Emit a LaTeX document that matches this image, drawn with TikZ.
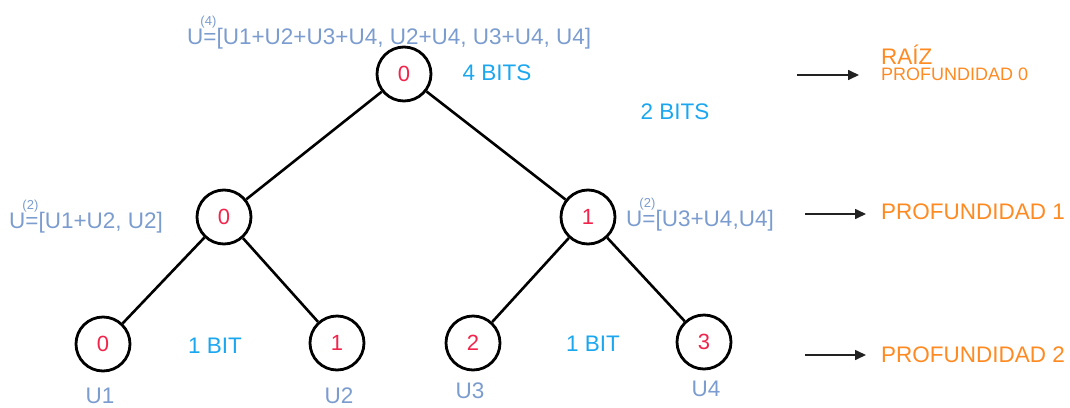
\documentclass[tikz,border=0pt]{standalone}
\usepackage{fontspec}
\setmainfont{Liberation Sans}
\usetikzlibrary{arrows.meta}
\definecolor{vecblue}{HTML}{7B9CCF}
\definecolor{bitblue}{HTML}{1AA7F0}
\definecolor{deporange}{HTML}{FF8A22}
\definecolor{idxred}{HTML}{F2244C}
\definecolor{arrowgray}{HTML}{222222}
\newcommand{\fs}[1]{\fontsize{#1}{#1}\selectfont}
\newcommand{\supidx}[1]{\makebox[0pt][l]{\kern-3pt\raisebox{19pt}{\fs{13}(#1)}}}
\tikzset{
  treenode/.style={circle, draw=black, line width=2.8pt, minimum size=54pt, inner sep=0pt,
    text=idxred, font=\fs{22}},
  edge/.style={line width=2.6pt, black},
  vec/.style={text=vecblue, font=\fs{22.5}, inner sep=0pt},
  bits/.style={text=bitblue, font=\fs{22.5}, inner sep=0pt},
  depth/.style={text=deporange, font=\fs{22.5}, inner sep=0pt, anchor=west},
  levelarrow/.style={arrowgray, line width=1.6pt, -{Triangle[length=11pt,width=10pt]}}
}
\begin{document}
\begin{tikzpicture}[x=1pt,y=-1pt]
\useasboundingbox (0,0) rectangle (1070,407);

% tree nodes
\node[treenode] (r)  at (404,74)  {0};
\node[treenode] (a)  at (224,217) {0};
\node[treenode] (b)  at (588,217) {1};
\node[treenode] (l1) at (103,344) {0};
\node[treenode] (l2) at (337,343) {1};
\node[treenode] (l3) at (473,343) {2};
\node[treenode] (l4) at (704,342) {3};

% branches
\draw[edge] (r) -- (a);
\draw[edge] (r) -- (b);
\draw[edge] (a) -- (l1);
\draw[edge] (a) -- (l2);
\draw[edge] (b) -- (l3);
\draw[edge] (b) -- (l4);

% codeword vectors
\node[vec, anchor=west] (v4) at (187,33) {U\supidx{4}=[U1+U2+U3+U4, U2+U4, U3+U4, U4]};
\node[vec, anchor=west] (v2a) at (9,217) {U\supidx{2}=[U1+U2, U2]};
\node[vec, anchor=west] (v2b) at (626,215) {U\supidx{2}=[U3+U4,U4]};

% leaf labels
\node[vec] (u1) at (100,396) {U1};
\node[vec] (u2) at (339,396) {U2};
\node[vec] (u3) at (470,391) {U3};
\node[vec] (u4) at (706,389) {U4};

% bit counts
\node[bits] (b4) at (497,73)  {4 BITS};
\node[bits] (b2) at (675,112) {2 BITS};
\node[bits] (b1a) at (215,346) {1 BIT};
\node[bits] (b1b) at (593,344) {1 BIT};

% depth legend
\coordinate (s0) at (797,75);
\coordinate (e0) at (859,75);
\coordinate (s1) at (805,214);
\coordinate (e1) at (866,214);
\coordinate (s2) at (805,355);
\coordinate (e2) at (866,355);
\draw[levelarrow] (s0) -- (e0);
\draw[levelarrow] (s1) -- (e1);
\draw[levelarrow] (s2) -- (e2);

\node[depth] (raiz) at (881,55) {RAÍZ};
\node[depth, font=\fs{18}] (p0) at (881,74) {PROFUNDIDAD 0};
\node[depth] (p1) at (881,212) {PROFUNDIDAD 1};
\node[depth] (p2) at (881,355) {PROFUNDIDAD 2};
\end{tikzpicture}
\end{document}
